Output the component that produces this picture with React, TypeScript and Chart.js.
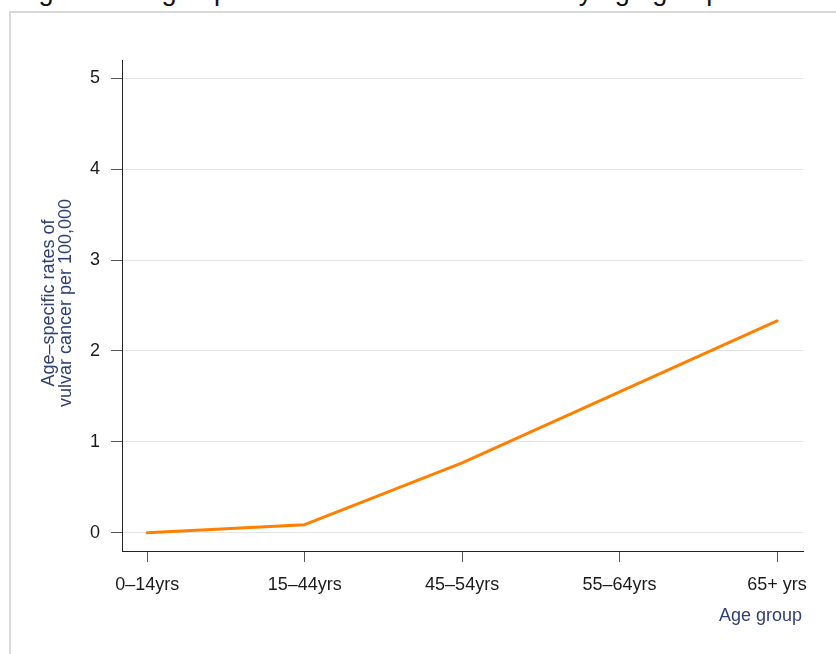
import React, { useEffect, useRef } from "react";
import { Chart, registerables } from "chart.js";

Chart.register(...registerables);

// Age groups along the x axis and the age-specific rate (per 100,000) for each
const ageGroups = ["0–14yrs", "15–44yrs", "45–54yrs", "55–64yrs", "65+ yrs"];
const rates = [0.0, 0.09, 0.77, 1.55, 2.33];
const yTickValues = [0, 1, 2, 3, 4, 5];

const FONT = "'Liberation Sans', Arial, Helvetica, sans-serif";
const TITLE_COLOR = "#2f3f73";

export default function App() {
  const canvasRef = useRef<HTMLCanvasElement | null>(null);

  useEffect(() => {
    const canvas = canvasRef.current;
    if (!canvas) return;
    const chart = new Chart(canvas, {
      type: "line",
      data: {
        datasets: [
          {
            data: ageGroups.map((_, i) => ({ x: i, y: rates[i] })),
            borderColor: "#ff8000",
            borderWidth: 3,
            pointRadius: 0,
            tension: 0,
            borderCapStyle: "round",
            borderJoinStyle: "round",
          },
        ],
      },
      options: {
        responsive: false,
        animation: false,
        devicePixelRatio: 1,
        layout: { padding: { left: 0, top: 60, right: 33, bottom: 53 } },
        plugins: { legend: { display: false }, tooltip: { enabled: false } },
        scales: {
          x: {
            type: "linear",
            min: -0.16,
            max: 4.165,
            afterBuildTicks: (scale: any) => {
              scale.ticks = ageGroups.map((_, i) => ({ value: i }));
            },
            afterFit: (scale: any) => {
              scale.height = 50;
            },
            ticks: {
              callback: (v: any) => ageGroups[v] ?? "",
              color: "#1a1a1a",
              font: { family: FONT, size: 18 },
              padding: 12,
              maxRotation: 0,
              autoSkip: false,
            },
            grid: {
              drawOnChartArea: false,
              drawTicks: true,
              tickLength: 11,
              tickColor: "#555555",
            },
            border: { display: true, color: "#222222", width: 1 },
          },
          y: {
            type: "linear",
            min: -0.2,
            max: 5.2,
            afterBuildTicks: (scale: any) => {
              scale.ticks = yTickValues.map((v) => ({ value: v }));
            },
            afterFit: (scale: any) => {
              scale.width = 122;
            },
            ticks: {
              color: "#1a1a1a",
              font: { family: FONT, size: 18 },
              padding: 11,
            },
            grid: {
              drawOnChartArea: true,
              color: "#e4e4e4",
              lineWidth: 1,
              drawTicks: true,
              tickLength: 11,
              tickColor: "#555555",
            },
            border: { display: true, color: "#222222", width: 1 },
          },
        },
      },
    });
    return () => chart.destroy();
  }, []);

  return (
    <div
      style={{
        position: "fixed",
        left: 0,
        top: 0,
        width: 836,
        height: 654,
        overflow: "hidden",
        background: "#ffffff",
        fontFamily: FONT,
      }}
    >
      <div
        style={{
          position: "absolute",
          left: 16,
          top: -22,
          whiteSpace: "nowrap",
          fontSize: 27,
          lineHeight: "27px",
          color: "#111111",
        }}
      >
        Figure 10: Age-specific rates of vulvar cancer by age group
      </div>
      <div
        style={{
          position: "absolute",
          left: 9,
          top: 11,
          width: 900,
          height: 700,
          border: "2px solid #d9d9d9",
          boxSizing: "border-box",
        }}
      />
      <canvas
        ref={canvasRef}
        width={836}
        height={654}
        style={{ position: "absolute", left: 0, top: 0, width: 836, height: 654 }}
      />
      <div
        style={{
          position: "absolute",
          left: 57 - 150,
          top: 303 - 17,
          width: 300,
          height: 34,
          fontSize: 18,
          lineHeight: "17px",
          textAlign: "center",
          color: TITLE_COLOR,
          transform: "rotate(-90deg)",
          transformOrigin: "50% 50%",
          whiteSpace: "nowrap",
        }}
      >
        Age–specific rates of
        <br />
        vulvar cancer per 100,000
      </div>
      <div
        style={{
          position: "absolute",
          right: 34,
          top: 606,
          fontSize: 18,
          lineHeight: "18px",
          color: TITLE_COLOR,
          whiteSpace: "nowrap",
        }}
      >
        Age group
      </div>
    </div>
  );
}
